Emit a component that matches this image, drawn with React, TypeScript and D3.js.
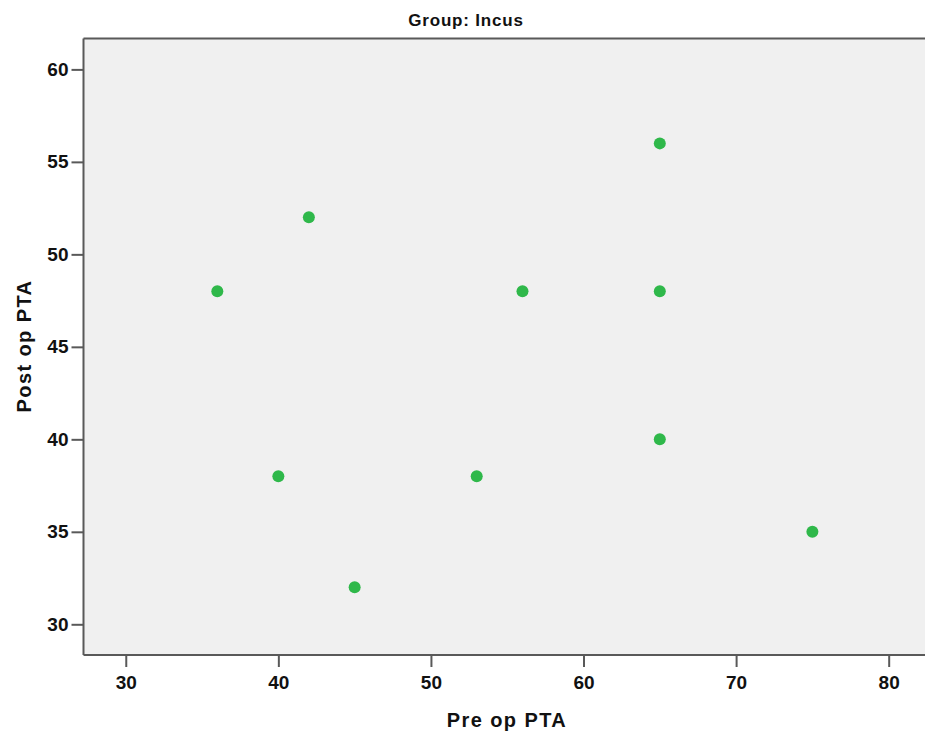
import React, { useEffect, useRef } from 'react';
import * as d3 from 'd3';

const preOp = [36, 42, 40, 45, 53, 56, 65, 65, 65, 75];
const postOp = [48, 52, 38, 32, 38, 48, 56, 48, 40, 35];
const xTicks = [30, 40, 50, 60, 70, 80];
const yTicks = [30, 35, 40, 45, 50, 55, 60];

const W = 925;
const H = 738;

const App = () => {
  const svgRef = useRef<SVGSVGElement>(null);

  useEffect(() => {
    const svg = d3.select(svgRef.current);
    svg.selectAll('*').remove();

    const left = 83.5, right = 925, top = 38.5, bottom = 655;
    const font = 'Arial, "Liberation Sans", sans-serif';

    // scales (domains fitted to the frame)
    const x = d3.scaleLinear().domain([27.23, 82.38]).range([left, right]);
    const y = d3.scaleLinear().domain([28.34, 61.67]).range([bottom, top]);

    // plot background
    svg.append('rect')
      .attr('x', left).attr('y', top)
      .attr('width', right - left).attr('height', bottom - top)
      .attr('fill', '#f0f0f0');

    // frame lines: left, top, bottom
    const frame = svg.append('g').attr('stroke', '#595959').attr('stroke-width', 2);
    frame.append('line').attr('x1', left).attr('x2', left).attr('y1', top).attr('y2', bottom);
    frame.append('line').attr('x1', left).attr('x2', right).attr('y1', top).attr('y2', top);
    frame.append('line').attr('x1', left).attr('x2', right).attr('y1', bottom).attr('y2', bottom);

    // x axis
    const xAxis = d3.axisBottom(x).tickValues(xTicks).tickSize(12).tickPadding(9);
    const gx = svg.append('g').attr('transform', `translate(0,${bottom})`).call(xAxis);
    gx.select('.domain').remove();
    gx.selectAll('line').attr('stroke', '#595959').attr('stroke-width', 2);
    gx.selectAll('text')
      .attr('fill', '#111')
      .style('font-family', font).style('font-size', '19px').style('font-weight', 'bold');

    // y axis
    const yAxis = d3.axisLeft(y).tickValues(yTicks).tickSize(12).tickPadding(3);
    const gy = svg.append('g').attr('transform', `translate(${left},0)`).call(yAxis);
    gy.select('.domain').remove();
    gy.selectAll('line').attr('stroke', '#595959').attr('stroke-width', 2);
    gy.selectAll('text')
      .attr('fill', '#111')
      .style('font-family', font).style('font-size', '19px').style('font-weight', 'bold');

    // points
    svg.append('g').selectAll('circle')
      .data(preOp.map((p, i) => ({ pre: p, post: postOp[i] })))
      .enter().append('circle')
      .attr('cx', d => x(d.pre))
      .attr('cy', d => y(d.post))
      .attr('r', 6)
      .attr('fill', '#2fb84a');

    // titles
    svg.append('text')
      .attr('x', 466).attr('y', 26)
      .attr('text-anchor', 'middle')
      .attr('fill', '#111')
      .style('font-family', font).style('font-size', '17px').style('font-weight', 'bold')
      .style('letter-spacing', '0.8px')
      .text('Group: Incus');

    svg.append('text')
      .attr('x', 507).attr('y', 727)
      .attr('text-anchor', 'middle')
      .attr('fill', '#111')
      .style('font-family', font).style('font-size', '20px').style('font-weight', 'bold')
      .style('letter-spacing', '1.4px')
      .text('Pre op PTA');

    svg.append('text')
      .attr('transform', `translate(31,346) rotate(-90)`)
      .attr('text-anchor', 'middle')
      .attr('fill', '#111')
      .style('font-family', font).style('font-size', '20px').style('font-weight', 'bold')
      .style('letter-spacing', '1.4px')
      .text('Post op PTA');
  }, []);

  return (
    <svg ref={svgRef} width={W} height={H}
      style={{ position: 'absolute', left: 0, top: 0, background: '#fff' }} />
  );
};

export default App;
